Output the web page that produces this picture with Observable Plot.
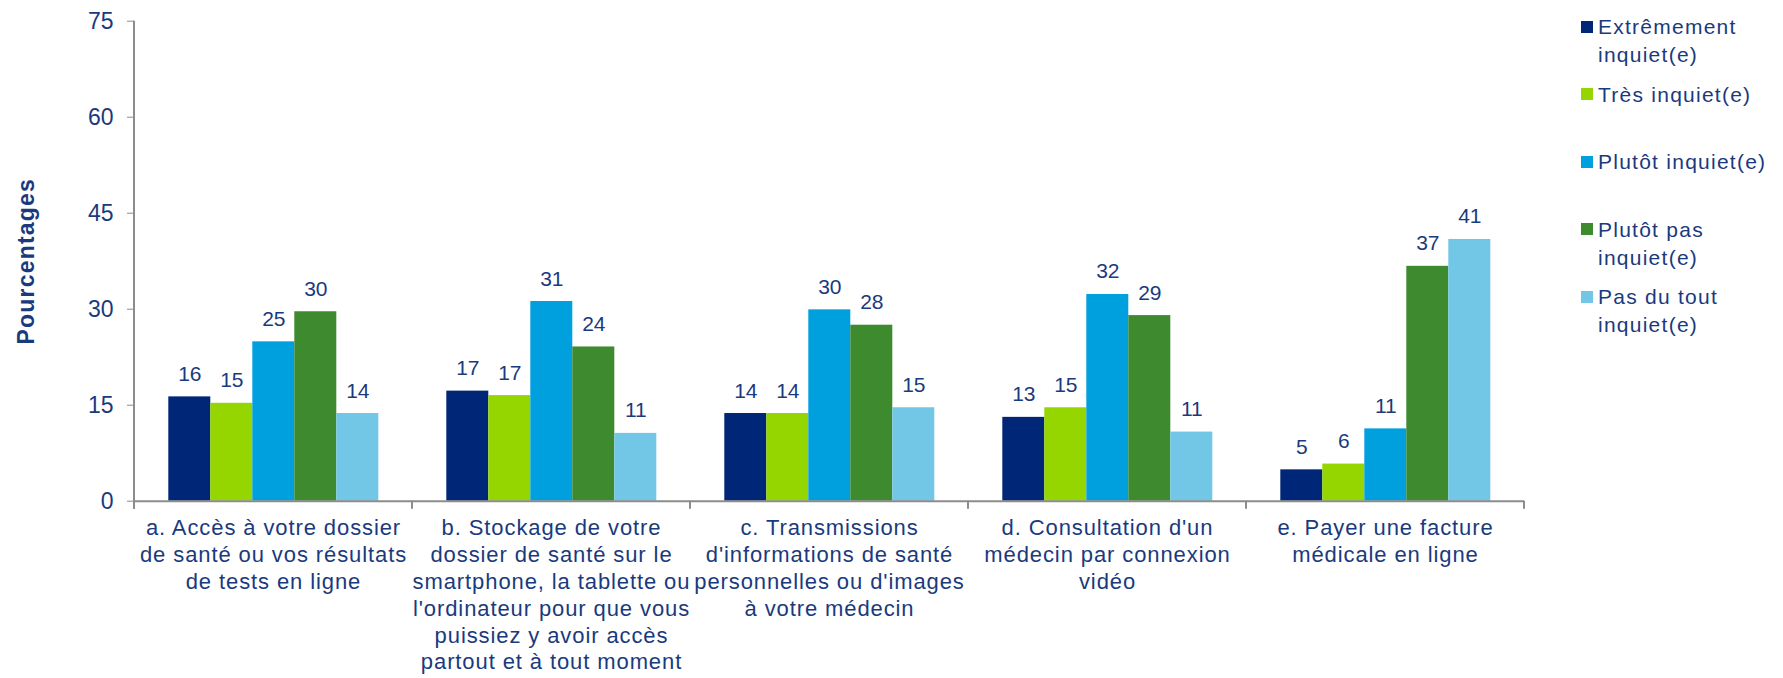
<!DOCTYPE html>
<html>
<head>
<meta charset="utf-8">
<script src="https://cdn.jsdelivr.net/npm/d3@7"></script>
<script src="https://cdn.jsdelivr.net/npm/@observablehq/plot@0.6"></script>
<style>
  html, body { margin: 0; padding: 0; background: #ffffff; }
  #wrap { position: relative; width: 1783px; height: 678px; font-family: "Liberation Sans", Arial, sans-serif; }
  #wrap svg { display: block; }
  [aria-label="fx-axis tick label"] text { letter-spacing: 0.9px; }
  [aria-label="y-axis label"] text { font-weight: bold; letter-spacing: 1.2px; }
  #legend { position: absolute; left: 1581px; top: 0; }
  .item { position: absolute; left: 0; white-space: pre; font-size: 21px; line-height: 28px; letter-spacing: 1.25px; color: #1A3A7E; }
  .sw { position: absolute; left: 0; top: 7.75px; width: 12px; height: 12px; }
  .lab { position: absolute; left: 17px; top: 0; }
</style>
</head>
<body>
<div id="wrap"></div>
<script>
// ---- data ----
const categories = ["a", "b", "c", "d", "e"];
const categoryLabels = [
  "a. Accès à votre dossier\nde santé ou vos résultats\nde tests en ligne",
  "b. Stockage de votre\ndossier de santé sur le\nsmartphone, la tablette ou\nl'ordinateur pour que vous\npuissiez y avoir accès\npartout et à tout moment",
  "c. Transmissions\nd'informations de santé\npersonnelles ou d'images\nà votre médecin",
  "d. Consultation d'un\nmédecin par connexion\nvidéo",
  "e. Payer une facture\nmédicale en ligne"
];
const series = ["Extrêmement inquiet(e)", "Très inquiet(e)", "Plutôt inquiet(e)", "Plutôt pas inquiet(e)", "Pas du tout inquiet(e)"];
const legendLabels = ["Extrêmement\ninquiet(e)", "Très inquiet(e)", "Plutôt inquiet(e)", "Plutôt pas\ninquiet(e)", "Pas du tout\ninquiet(e)"];
const colors = ["#002677", "#95D600", "#00A0DF", "#3E8A2E", "#72C7E7"];

const extremement = [16.3, 17.2, 13.7, 13.1, 4.9];
const tres        = [15.3, 16.5, 13.7, 14.6, 5.8];
const plutot      = [24.9, 31.2, 29.9, 32.3, 11.3];
const plutotPas   = [29.6, 24.1, 27.5, 29.0, 36.7];
const pasDuTout   = [13.7, 10.6, 14.6, 10.8, 40.9];
const valueLabels = [
  [16, 17, 14, 13, 5],
  [15, 17, 14, 15, 6],
  [25, 31, 30, 32, 11],
  [30, 24, 28, 29, 37],
  [14, 11, 15, 11, 41]
];
const yTicks = [0, 15, 30, 45, 60, 75];

// ---- table ----
const seriesValues = [extremement, tres, plutot, plutotPas, pasDuTout];
const data = [];
series.forEach((s, si) => {
  categories.forEach((c, ci) => {
    data.push({cat: c, series: s, value: seriesValues[si][ci], label: valueLabels[si][ci]});
  });
});
const labelOf = new Map(categories.map((c, i) => [c, categoryLabels[i]]));

const navy = "#1A3A7E";
const gray = "#8C8C8C";

const plot = Plot.plot({
  width: 1783,
  height: 678,
  marginLeft: 131.7,
  marginRight: 257,
  marginTop: 20.7,
  marginBottom: 177.3,
  style: {fontFamily: "'Liberation Sans', Arial, sans-serif", fontSize: "21px", color: navy, background: "#ffffff"},
  fx: {domain: categories, padding: 0, label: null},
  x: {domain: series, paddingInner: 0, paddingOuter: 0.75, axis: null},
  y: {domain: [0, 75], label: null},
  color: {domain: series, range: colors},
  marks: [
    Plot.barY(data, {fx: "cat", x: "series", y: "value", fill: "series"}),
    Plot.ruleY([0], {stroke: gray, strokeWidth: 2}),
    Plot.text(data, {fx: "cat", x: "series", y: "value", text: "label", lineAnchor: "bottom", dy: -16, fill: navy, fontSize: 21}),
    Plot.axisY({ticks: yTicks, tickSize: 7, tickPadding: 14, fontSize: 23, stroke: gray, fill: navy,
      label: "Pourcentages", labelAnchor: "center", labelArrow: "none", labelOffset: 117}),
    Plot.axisFx({anchor: "bottom", lineAnchor: "top", tickSize: 0, tickPadding: 15, tickFormat: d => labelOf.get(d), lineHeight: 1.22, fontSize: 22, fill: navy, label: null})
  ]
});

document.getElementById("wrap").appendChild(plot);

// axis line and category boundary ticks, placed with the chart's own scales
const fx = plot.scale("fx");
const ys = plot.scale("y");
const svg = d3.select(plot);
const y0 = ys.apply(0), yTop = ys.apply(75);
const bounds = categories.map(c => fx.apply(c));
bounds.push(fx.apply(categories[categories.length - 1]) + fx.bandwidth);
const g = svg.append("g").attr("stroke", gray).attr("stroke-width", 2);
g.append("line").attr("x1", bounds[0]).attr("x2", bounds[0]).attr("y1", yTop).attr("y2", y0 + 8);
bounds.forEach(b => g.append("line").attr("x1", b).attr("x2", b).attr("y1", y0).attr("y2", y0 + 8));

// legend
const legend = d3.select("#wrap").append("div").attr("id", "legend");
series.forEach((s, i) => {
  const it = legend.append("div").attr("class", "item").style("top", (13 + i * 67.5) + "px");
  it.append("div").attr("class", "sw").style("background", colors[i]);
  it.append("div").attr("class", "lab").text(legendLabels[i]);
});
</script>
</body>
</html>
